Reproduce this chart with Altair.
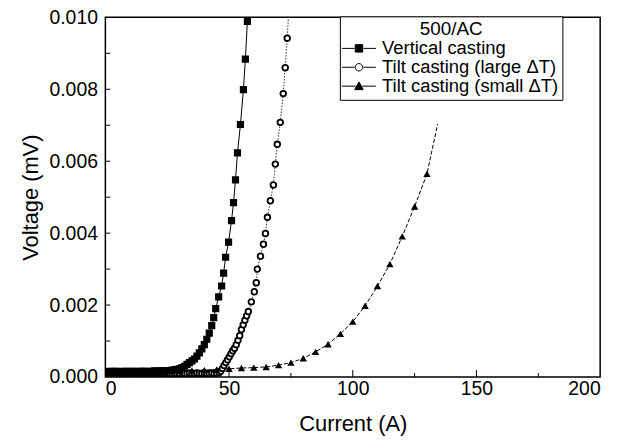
import altair as alt
import pandas as pd

FONT = "Liberation Sans"

series_names = ["Vertical casting", "Tilt casting (large \u0394T)", "Tilt casting (small \u0394T)"]

# Vertical casting (black squares)
vc_current = [0, 1, 2, 3, 4, 5, 6, 7, 8, 9, 10, 11, 12, 13, 14, 15, 16, 17, 18, 19,
              20, 21, 22, 23, 24, 25, 26, 27, 28, 29, 30, 31, 32, 33, 34, 35, 36, 37,
              38, 39, 40, 41, 42, 43, 43.8, 44.6, 45.8, 47.0, 47.8, 48.6, 49.8, 51.0,
              51.8, 52.6, 53.4, 54.6, 55.8, 56.6, 57.4]
vc_voltage = [0.00015, 0.00016, 0.00015, 0.00016, 0.00016, 0.00015, 0.00016, 0.00015,
              0.00016, 0.00016, 0.00015, 0.00016, 0.00016, 0.00015, 0.00016, 0.00016,
              0.00016, 0.00015, 0.00016, 0.00016, 0.00017, 0.00016, 0.00017, 0.00017,
              0.00017, 0.00018, 0.00018, 0.00019,
              0.00020, 0.00021, 0.00023, 0.00026, 0.00030, 0.00035, 0.00040, 0.00045,
              0.00050, 0.00058, 0.00067, 0.00078, 0.00090, 0.00105, 0.00122, 0.00143,
              0.00165, 0.00190, 0.00223, 0.00253, 0.00289, 0.00333, 0.00375, 0.00435,
              0.00485, 0.00548, 0.00623, 0.00702, 0.00799, 0.00884, 0.00989]

# Tilt casting, large dT (open circles)
lg_current = [0, 1, 2, 3, 4, 5, 6, 7, 8, 9, 10, 11, 12, 13, 14, 15, 16, 17, 18, 19,
              20, 21, 22, 23, 24, 25, 26, 27, 28, 29, 30, 31, 32, 33, 34, 35, 36, 37,
              38, 39, 40, 41, 42, 43, 44, 45,
              46.0, 46.6, 47.3, 48.0, 48.7, 49.4, 50.1, 50.8, 51.5, 52.2, 52.9, 53.6,
              54.3, 55.0, 55.7, 56.4, 57.1, 57.8, 59.0, 60.2, 61.0, 61.4, 62.7, 63.9,
              64.7, 65.5, 66.7, 67.9, 68.7, 69.5, 70.7, 71.9, 72.7, 73.5, 74.3]
lg_voltage = [0.00010, 0.00011, 0.00010, 0.00010, 0.00011, 0.00010, 0.00010, 0.00011,
              0.00010, 0.00010, 0.00011, 0.00010, 0.00010, 0.00011, 0.00010, 0.00010,
              0.00011, 0.00010, 0.00010, 0.00011, 0.00010, 0.00010, 0.00011, 0.00010,
              0.00010, 0.00011, 0.00010, 0.00010, 0.00011, 0.00010, 0.00010, 0.00011,
              0.00010, 0.00010, 0.00011, 0.00010, 0.00010, 0.00011, 0.00010, 0.00010,
              0.00011, 0.00010, 0.00010, 0.00011, 0.00010, 0.00011,
              0.00012, 0.00016, 0.00024, 0.00032, 0.00040, 0.00048, 0.00056, 0.00065,
              0.00073, 0.00080, 0.00090, 0.00102, 0.00115, 0.00132, 0.00145, 0.00158,
              0.00170, 0.00182, 0.00209, 0.00237, 0.00262, 0.00300, 0.00336, 0.00369,
              0.00399, 0.00444, 0.00490, 0.00534, 0.00592, 0.00647, 0.00708, 0.00788,
              0.00860, 0.00942, 0.01040]

# Tilt casting, small dT (filled triangles)
sm_current = [0, 5, 10, 15, 20, 25, 30, 35, 40, 45, 50, 55, 60, 65, 70, 75, 80, 85,
              90, 95, 100, 105, 110, 115, 120, 125, 130]
sm_voltage = [0.00015, 0.00015, 0.00015, 0.00016, 0.00016, 0.00016, 0.00017, 0.00018,
              0.00019, 0.00021, 0.00023, 0.00025, 0.00026, 0.00028, 0.00033, 0.00040,
              0.00052, 0.00070, 0.00091, 0.00120, 0.00154, 0.00198, 0.00253, 0.00314,
              0.00391, 0.00474, 0.00565]
# fitted line continues a little past the last marker
sm_line_end_current = [134.3]
sm_line_end_voltage = [0.00703]

x_label_values = [0, 50, 100, 150, 200]
x_major_ticks = [50, 100, 150]
x_minor_ticks = [25, 75, 125, 175]
y_label_values = [0.000, 0.002, 0.004, 0.006, 0.008, 0.010]
y_ticks = [0.001, 0.002, 0.003, 0.004, 0.005, 0.006, 0.007, 0.008, 0.009]

W, H = 498, 362

vc_df = pd.DataFrame({"current": vc_current, "voltage": vc_voltage})
lg_df = pd.DataFrame({"current": lg_current, "voltage": lg_voltage})
sm_df = pd.DataFrame({"current": sm_current, "voltage": sm_voltage})
sm_line_df = pd.DataFrame({"current": sm_current + sm_line_end_current,
                           "voltage": sm_voltage + sm_line_end_voltage})

x_enc = alt.X("current:Q", title="Current (A)",
              scale=alt.Scale(domain=[0, 200], nice=False, zero=False),
              axis=alt.Axis(values=x_label_values, ticks=False, domain=False, grid=False,
                            labelFont=FONT, labelFontSize=19.5, labelColor="black",
                            labelPadding=3, titleFont=FONT, titleFontSize=22,
                            titleFontWeight="normal", titleColor="black", titlePadding=15))
y_enc = alt.Y("voltage:Q", title="Voltage (mV)",
              scale=alt.Scale(domain=[0, 0.010], nice=False, zero=False),
              axis=alt.Axis(values=y_label_values, format=".3f", ticks=False, domain=False,
                            grid=False, labelFont=FONT, labelFontSize=19.5, labelColor="black",
                            labelPadding=8, titleFont=FONT, titleFontSize=22,
                            titleFontWeight="normal", titleColor="black", titlePadding=7))

# lines
vc_line = alt.Chart(vc_df).mark_line(color="black", strokeWidth=1, clip=True).encode(x=x_enc, y=y_enc)
lg_line = alt.Chart(lg_df).mark_line(color="#333333", strokeWidth=1, strokeDash=[1.5, 1.5], clip=True).encode(x=x_enc, y=y_enc)
sm_line = alt.Chart(sm_line_df).mark_line(color="black", strokeWidth=1, strokeDash=[4, 2], clip=True).encode(x=x_enc, y=y_enc)

# markers
lg_pts = alt.Chart(lg_df).mark_point(shape="circle", filled=True, fill="white", stroke="black",
                                     strokeWidth=1.8, size=32, opacity=1, clip=True).encode(x=x_enc, y=y_enc)
sm_pts = alt.Chart(sm_df).mark_point(shape="triangle-up", filled=True, color="black",
                                     size=55, opacity=1, clip=True).encode(x=x_enc, y=y_enc)
vc_pts = alt.Chart(vc_df).mark_point(shape="square", filled=True, color="black",
                                     size=52, opacity=1, clip=True).encode(x=x_enc, y=y_enc)

# inward ticks
ytick_df = pd.DataFrame({"voltage": y_ticks})
ytick_layer = alt.Chart(ytick_df).mark_rule(color="black", strokeWidth=1).encode(
    y=y_enc, x=alt.value(0), x2=alt.value(5))
xmaj_df = pd.DataFrame({"current": x_major_ticks})
xmaj_layer = alt.Chart(xmaj_df).mark_rule(color="black", strokeWidth=1).encode(
    x=x_enc, y=alt.value(H), y2=alt.value(H - 7))
xmin_df = pd.DataFrame({"current": x_minor_ticks})
xmin_layer = alt.Chart(xmin_df).mark_rule(color="black", strokeWidth=1).encode(
    x=x_enc, y=alt.value(H), y2=alt.value(H - 4))

# legend (line + marker symbols)
legend_paths = [
    "M-2.2,0H0.3M0.45,-0.75H1.95V0.75H0.45ZM2.1,0H4.6",
    "M-2.2,0H0.3M0.45,0A0.75,0.75 0 1 0 1.95,0A0.75,0.75 0 1 0 0.45,0ZM2.1,0H4.6",
    "M-2.2,0H0.55M1.2,-0.85L2.05,0.7H0.35ZM1.85,0H4.6",
]
legend_props = dict(
    title="500/AC", titleAnchor="middle", orient="none", legendX=236, legendY=-1, padding=4,
    strokeColor="black", fillColor="white", cornerRadius=0,
    titleFont=FONT, titleFontSize=19, titleFontWeight="normal", titleColor="black",
    titlePadding=0, labelFont=FONT, labelFontSize=18.5, labelColor="black",
    labelOffset=20, symbolSize=100, symbolStrokeWidth=1, symbolStrokeColor="black",
    rowPadding=0, labelLimit=400,
)
legend_df = pd.DataFrame({"series": series_names})
legend_layer = alt.Chart(legend_df).mark_point(filled=True, strokeWidth=1, opacity=1).encode(
    shape=alt.Shape("series:N", scale=alt.Scale(domain=series_names, range=legend_paths),
                    legend=alt.Legend(**legend_props)),
    fill=alt.Fill("series:N", scale=alt.Scale(domain=series_names, range=["black", "white", "black"]),
                  legend=alt.Legend(**legend_props)),
    stroke=alt.Stroke("series:N", scale=alt.Scale(domain=series_names, range=["black", "black", "black"]),
                      legend=alt.Legend(**legend_props)),
).transform_filter("false")

chart = alt.layer(
    lg_line, sm_line, vc_line, lg_pts, sm_pts, vc_pts,
    ytick_layer, xmaj_layer, xmin_layer, legend_layer,
).properties(
    width=W, height=H,
    autosize=alt.AutoSizeParams(type="none"),
    padding={"left": 98, "top": 8, "right": 25, "bottom": 62},
    background="white",
).configure_view(stroke="black", strokeWidth=1.5)

chart.save("out.html", embed_options={"renderer": "svg", "actions": False})
